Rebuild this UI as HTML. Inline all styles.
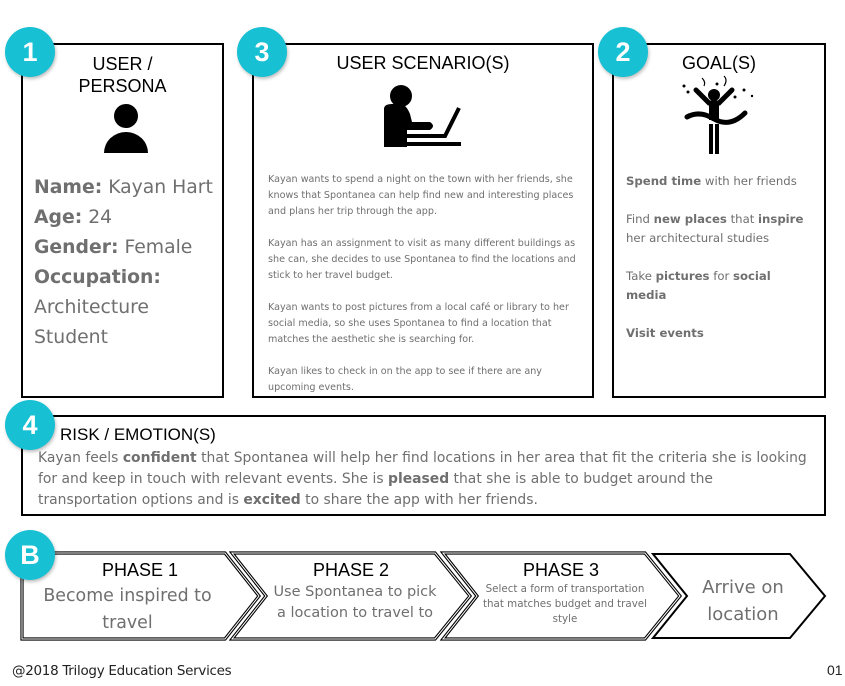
<!DOCTYPE html>
<html><head><meta charset="utf-8"><style>
body{margin:0;width:845px;height:686px;background:#fff;position:relative;overflow:hidden;font-family:"Liberation Sans",sans-serif}
.a{position:absolute;white-space:nowrap}
.h{color:#000;font-size:18px;text-align:center}
.g{color:#6f6f6f;font-family:"DejaVu Sans","Liberation Sans",sans-serif}
b{font-weight:bold}
.num{position:absolute;width:50px;height:50px;border-radius:50%;background:#17c0d2;color:#fff;font:bold 27px "Liberation Sans",sans-serif;text-align:center;line-height:50px;box-shadow:1px 2px 3px rgba(0,0,0,.25)}
</style></head><body>
<svg class="a" style="left:0;top:0" width="845" height="686">
<g fill="none" stroke="#000" stroke-width="2">
<rect x="22" y="44" width="201" height="353"/>
<rect x="253" y="44" width="340" height="353"/>
<rect x="613" y="44" width="212" height="353"/>
<rect x="22" y="416" width="803" height="99"/>
</g>
<g stroke-linejoin="miter">
<path d="M22,553 L225,553 L259,596 L225,639 L22,639 Z" fill="#fff" stroke="#000" stroke-width="3.2"/>
<path d="M22,553 L225,553 L259,596 L225,639 L22,639 Z" fill="none" stroke="#fff" stroke-width="1"/>
<path d="M232,553 L435,553 L470,596 L435,639 L232,639 L266,596 Z" fill="#fff" stroke="#000" stroke-width="3.2"/>
<path d="M232,553 L435,553 L470,596 L435,639 L232,639 L266,596 Z" fill="none" stroke="#fff" stroke-width="1"/>
<path d="M443,553 L645,553 L680,596 L645,639 L443,639 L477,596 Z" fill="#fff" stroke="#000" stroke-width="3.2"/>
<path d="M443,553 L645,553 L680,596 L645,639 L443,639 L477,596 Z" fill="none" stroke="#fff" stroke-width="1"/>
<path d="M653,554 L790,554 L825,596 L790,638 L653,638 L687,596 Z" fill="#fff" stroke="#000" stroke-width="2"/>
</g>
<circle cx="126" cy="116" r="12" fill="#000"/>
<path d="M104,153 A22,21 0 0 1 148,153 Z" fill="#000"/>
<circle cx="401" cy="96" r="11" fill="#000"/>
<path d="M384,109 Q384,104 392,104 L400,104 Q406,104 410,114 L412,122 L430,122 Q436,126 430,130 L407,130 L407,147 L384,147 Z" fill="#000"/>
<path d="M405,136 L445,136 L459,108" stroke="#000" stroke-width="4" fill="none"/>
<rect x="407" y="142" width="54" height="4" fill="#000"/>
<circle cx="714" cy="95" r="6" fill="#000"/>
<path d="M696,90 L709,103 L719,103 L732,90" stroke="#000" stroke-width="5" fill="none" stroke-linecap="round"/>
<rect x="709" y="102" width="10" height="18" fill="#000"/>
<path d="M687,117 Q700,110 714,119 Q730,128 745,113" stroke="#000" stroke-width="5" fill="none" stroke-linecap="round"/>
<path d="M711,124 L711,154 M717,124 L717,154" stroke="#000" stroke-width="4"/>
<g fill="#000"><circle cx="684" cy="86" r="1.5"/><circle cx="688" cy="92" r="1.5"/><circle cx="717" cy="84" r="1.5"/><circle cx="744" cy="90" r="1.5"/><circle cx="735" cy="97" r="1.5"/><circle cx="752" cy="96" r="1.2"/></g>
<path d="M702,78 Q706,82 704,86 M724,76 Q728,80 724,86" stroke="#000" stroke-width="1.2" fill="none"/>
</svg>

<div class="num" style="left:5px;top:27px">1</div>
<div class="num" style="left:237px;top:27px">3</div>
<div class="num" style="left:598px;top:27px">2</div>
<div class="num" style="left:5px;top:400px">4</div>
<div class="num" style="left:5px;top:530px">B</div>

<div class="a h" style="left:22px;width:201px;top:53px;line-height:22px">USER /<br>PERSONA</div>
<div class="a g" style="left:34px;top:173px;font-size:18.8px;line-height:30px">
<b>Name:</b> Kayan Hart<br><b>Age:</b> 24<br><b>Gender:</b> Female<br><b>Occupation:</b><br>Architecture<br>Student</div>

<div class="a h" style="left:253px;width:340px;top:53px">USER SCENARIO(S)</div>
<div class="a g" style="left:268px;top:172px;font-size:9.6px;line-height:16px">
Kayan wants to spend a night on the town with her friends, she<br>knows that Spontanea can help find new and interesting places<br>and plans her trip through the app.<br><br>
Kayan has an assignment to visit as many different buildings as<br>she can, she decides to use Spontanea to find the locations and<br>stick to her travel budget.<br><br>
Kayan wants to post pictures from a local café or library to her<br>social media, so she uses Spontanea to find a location that<br>matches the aesthetic she is searching for.<br><br>
Kayan likes to check in on the app to see if there are any<br>upcoming events.</div>

<div class="a h" style="left:613px;width:212px;top:53px">GOAL(S)</div>
<div class="a g" style="left:626px;top:172px;font-size:11.7px;line-height:19px">
<b>Spend time</b> with her friends<br><br>Find <b>new places</b> that <b>inspire</b><br>her architectural studies<br><br>Take <b>pictures</b> for <b>social</b><br><b>media</b><br><br><b>Visit events</b></div>

<div class="a" style="left:60px;top:425px;font-size:17px">RISK / EMOTION(S)</div>
<div class="a g" style="left:38px;top:448px;font-size:13.9px;line-height:21px">
Kayan feels <b>confident</b> that Spontanea will help her find locations in her area that fit the criteria she is looking<br>for and keep in touch with relevant events. She is <b>pleased</b> that she is able to budget around the<br>transportation options and is <b>excited</b> to share the app with her friends.</div>

<div class="a h" style="left:40px;width:200px;top:560px">PHASE 1</div>
<div class="a g" style="left:30px;width:195px;top:583px;font-size:17.4px;line-height:27px;text-align:center">Become inspired to<br>travel</div>
<div class="a h" style="left:251px;width:200px;top:560px">PHASE 2</div>
<div class="a g" style="left:255px;width:200px;top:582px;font-size:14.5px;line-height:21px;text-align:center">Use Spontanea to pick<br>a location to travel to</div>
<div class="a h" style="left:461px;width:200px;top:560px">PHASE 3</div>
<div class="a g" style="left:465px;width:200px;top:582px;font-size:10.3px;line-height:15px;text-align:center">Select a form of transportation<br>that matches budget and travel<br>style</div>
<div class="a g" style="left:668px;width:150px;top:574px;font-size:18px;line-height:27px;text-align:center">Arrive on<br>location</div>

<div class="a" style="left:12px;top:663px;font-size:13.5px;color:#222;font-family:'DejaVu Sans',sans-serif;letter-spacing:-0.3px">@2018 Trilogy Education Services</div>
<div class="a" style="left:827px;top:662px;font-size:14px;color:#222">01</div>
</body></html>
